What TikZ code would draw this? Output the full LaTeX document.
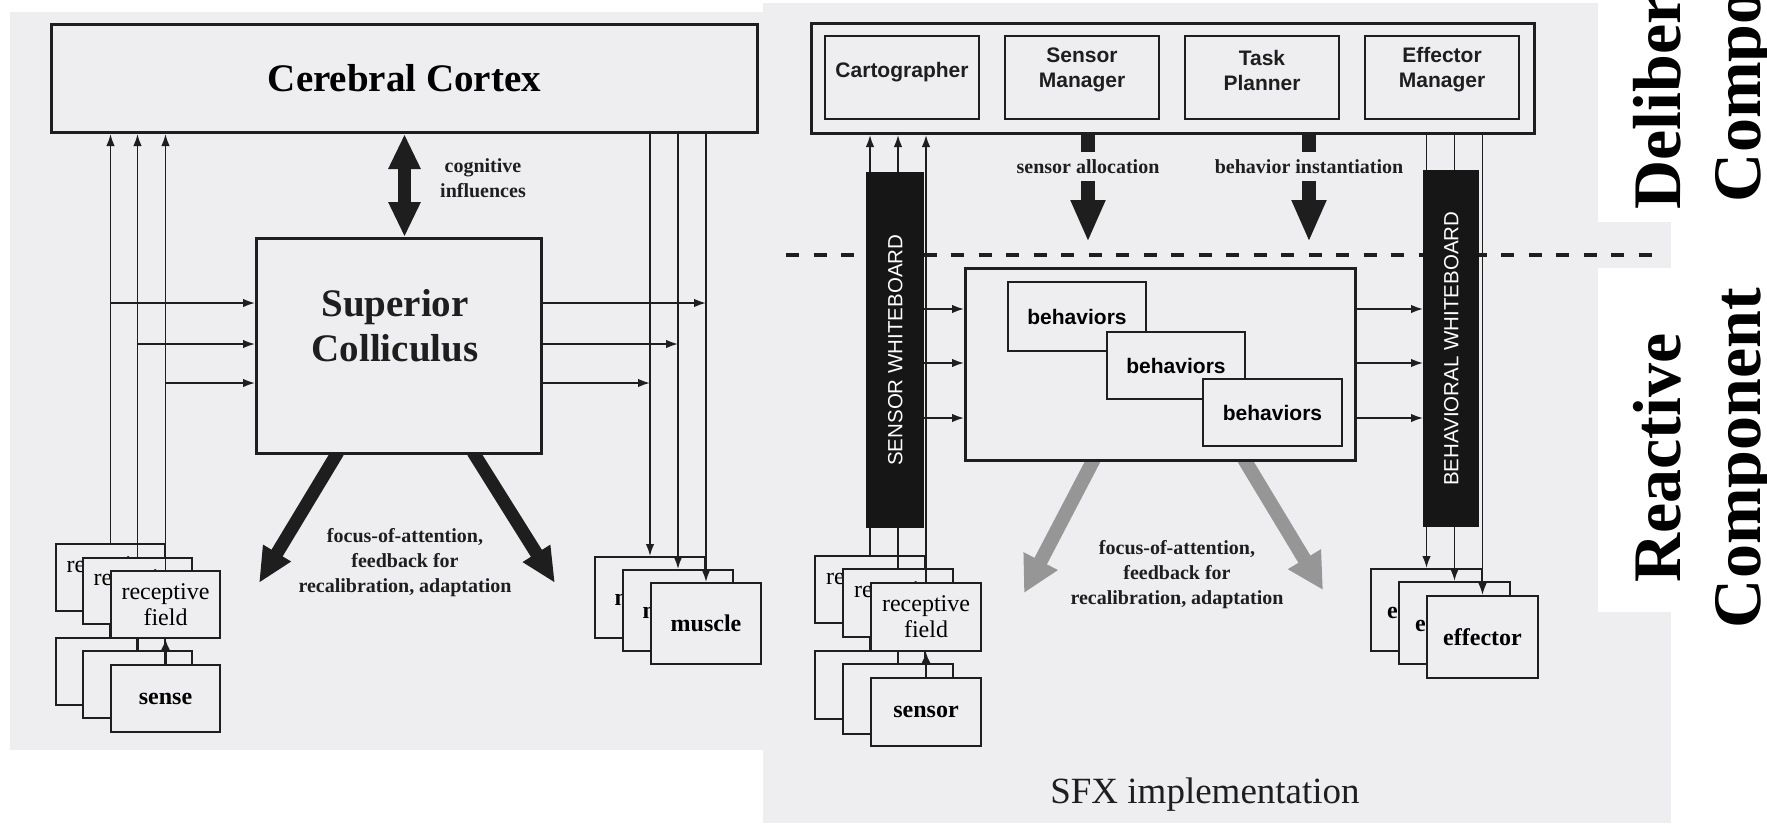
\documentclass[tikz,border=0pt]{standalone}
\usepackage{fontspec}
\setmainfont{Liberation Serif}
\newfontfamily\sansf{Liberation Sans}
\usetikzlibrary{arrows.meta}
\definecolor{panel}{RGB}{238,238,240}
\definecolor{ink}{RGB}{30,30,30}
\definecolor{barc}{RGB}{22,22,22}
\definecolor{halftone}{RGB}{150,150,150}
\newcommand\FBig{\fontsize{39}{45}\selectfont\bfseries}
\newcommand\FLab{\fontsize{20}{25}\selectfont\bfseries}
\newcommand\FBox{\fontsize{24}{26}\selectfont}
\newcommand\FSans{\sansf\fontsize{21}{25}\selectfont\bfseries}
\newcommand\FWb{\sansf\fontsize{20.5}{24}\selectfont}
\newcommand\FSide{\fontsize{68}{80}\selectfont\bfseries}
\newcommand\FCap{\fontsize{37}{44}\selectfont}
\begin{document}
\begin{tikzpicture}[x=1pt,y=-1pt,
  box/.style={draw=ink, fill=panel, line width=2pt, inner sep=0pt, anchor=north west, align=center},
  bigbox/.style={box, line width=3pt},
  sz/.style 2 args={minimum width=#1pt, minimum height=#2pt},
  bar/.style={fill=barc, draw=none, inner sep=0pt, anchor=north west},
  arr/.style={draw=ink, line width=1.7pt, -{Latex[length=12pt,width=8.5pt]}},
  arrB/.style={draw=ink, line width=2.6pt, -{Latex[length=11pt,width=9pt]}},
  fat/.style={draw=ink, line width=13pt, -{Triangle[length=35pt,width=30pt]}},
  fatgray/.style={draw=halftone, line width=14pt, -{Triangle[length=36pt,width=36pt]}},
  lab/.style={inner sep=0pt, align=center, font=\FLab, text=ink},
  txt/.style={inner sep=0pt, align=center, text=ink},
]
\useasboundingbox (0,0) rectangle (1767,823);
\clip (0,0) rectangle (1767,823);
\fill[white] (0,0) rectangle (1767,823);
% panels
\fill[panel] (10,12) rectangle (763,750);
\fill[panel] (763,3) rectangle (1671,823);
\fill[white] (1598,0) rectangle (1767,222);
\fill[white] (1598,268) rectangle (1767,612);

% ================= LEFT =================
\node[bigbox, sz={706}{108}, font=\FBig] (cortex) at (50,23) {Cerebral Cortex};

\coordinate (dL0) at (338,452);
\coordinate (dL1) at (259,583);
\coordinate (dR0) at (473,452);
\coordinate (dR1) at (555,583);
\draw[fat] (dL0) -- (dL1);
\draw[fat] (dR0) -- (dR1);

\node[bigbox, sz={285}{215}] (sc) at (255,237) {};
\node[txt, font=\FBig] (scT) at (395,326) {Superior\\Colliculus};

\draw[draw=ink, line width=13pt, {Triangle[length=35pt,width=30pt]}-{Triangle[length=35pt,width=30pt]}] (cortex.south) -- (cortex.south |- sc.north);
\node[lab] (cog) at (483,178) {cognitive\\influences};

% sense boxes
\node[box, sz={109}{67}] (B1) at (55,637) {};
\node[box, sz={109}{67}] (B2) at (82,650) {};
\node[box, sz={109}{67}, font=\FBox\bfseries] (B3) at (110,664) {sense};
% receptive fields
\node[box, sz={109}{67}, font=\FBox] (A1) at (55,543) {receptive\\field};
\draw[arrB] (B1.north) -- (A1.south);
\node[box, sz={109}{66}, font=\FBox] (A2) at (82,557) {receptive\\field};
\draw[arrB] (B2.north) -- (A2.south);
\node[box, sz={109}{67}, font=\FBox] (A3) at (110,570) {receptive\\field};
\draw[arrB] (B3.north) -- (A3.south);

\draw[arr] (A1.north) -- (A1.north |- cortex.south);
\draw[arr] (A2.north) -- (A2.north |- cortex.south);
\draw[arr] (A3.north) -- (A3.north |- cortex.south);

\coordinate (y1) at (0,303);
\coordinate (y2) at (0,344);
\coordinate (y3) at (0,383);
\draw[arr] (A1.north |- y1) -- (sc.west |- y1);
\draw[arr] (A2.north |- y2) -- (sc.west |- y2);
\draw[arr] (A3.north |- y3) -- (sc.west |- y3);

% muscles
\node[box, sz={110}{81}, font=\FBox\bfseries] (M1) at (594,556) {muscle};
\node[box, sz={110}{81}, font=\FBox\bfseries] (M2) at (622,569) {muscle};
\node[box, sz={110}{81}, font=\FBox\bfseries] (M3) at (650,582) {muscle};
\draw[arr] (M1.north |- cortex.south) -- (M1.north);
\draw[arr] (M2.north |- cortex.south) -- (M2.north);
\draw[arr] (M3.north |- cortex.south) -- (M3.north);
\draw[arr] (sc.east |- y1) -- (M3.north |- y1);
\draw[arr] (sc.east |- y2) -- (M2.north |- y2);
\draw[arr] (sc.east |- y3) -- (M1.north |- y3);

\node[lab] (focL) at (405,563) {focus-of-attention,\\feedback for\\recalibration, adaptation};

% ================= RIGHT =================
\coordinate (dashL) at (786,255);
\coordinate (dashR) at (1660,255);
\draw[ink, line width=4pt, dash pattern=on 13pt off 14.5pt] (dashL) -- (dashR);

\node[bigbox, sz={723}{110}] (delib) at (810,22) {};
\node[box, sz={154}{83}] (carto) at (824,35) {};
\node[box, sz={154}{83}] (smgr) at (1004,35) {};
\node[box, sz={154}{83}] (tpl) at (1184,35) {};
\node[box, sz={154}{83}] (emgr) at (1364,35) {};
\node[txt, font=\FSans] (cartoT) at (carto.center |- 0,72) {Cartographer};
\node[txt, font=\FSans] (smgrT) at (smgr.center |- 0,70) {Sensor\\Manager};
\node[txt, font=\FSans] (tplT) at (tpl.center |- 0,70) {Task\\Planner};
\node[txt, font=\FSans] (emgrT) at (emgr.center |- 0,70) {Effector\\Manager};

% sensor stacks
\node[box, sz={110}{68}] (S1) at (814,650) {};
\node[box, sz={110}{70}] (S2) at (842,663) {};
\node[box, sz={110}{68}, font=\FBox\bfseries] (S3) at (870,677) {sensor};
\node[box, sz={110}{67}, font=\FBox] (R1) at (814,555) {receptive\\field};
\draw[arrB] (S1.north) -- (R1.south);
\node[box, sz={110}{68}, font=\FBox] (R2) at (842,568) {receptive\\field};
\draw[arrB] (S2.north) -- (R2.south);
\node[box, sz={110}{68}, font=\FBox] (R3) at (870,582) {receptive\\field};
\draw[arrB] (S3.north) -- (R3.south);

% effectors
\node[box, sz={111}{82}, font=\FBox\bfseries] (E1) at (1370,568) {effector};
\node[box, sz={111}{82}, font=\FBox\bfseries] (E2) at (1398,581) {effector};
\node[box, sz={111}{82}, font=\FBox\bfseries] (E3) at (1426,595) {effector};

\draw[arr] (R1.north) -- (R1.north |- delib.south);
\draw[arr] (R2.north) -- (R2.north |- delib.south);
\draw[arr] (R3.north) -- (R3.north |- delib.south);
\draw[arr] (E1.north |- delib.south) -- (E1.north);
\draw[arr] (E2.north |- delib.south) -- (E2.north);
\draw[arr] (E3.north |- delib.south) -- (E3.north);

% whiteboards
\node[bar, sz={58}{356}] (swb) at (866,172) {};
\node[bar, sz={56}{357}] (bwb) at (1423,170) {};
\node[rotate=90, font=\FWb, text=white, inner sep=0pt] (swbT) at (swb.center) {SENSOR WHITEBOARD};
\node[rotate=90, font=\FWb, text=white, inner sep=0pt] (bwbT) at (bwb.center) {BEHAVIORAL WHITEBOARD};

% gray feedback arrows
\coordinate (gL0) at (1094,459);
\coordinate (gL1) at (1024,593);
\coordinate (gR0) at (1244,459);
\coordinate (gR1) at (1323,590);
\draw[fatgray] (gL0) -- (gL1);
\draw[fatgray] (gR0) -- (gR1);

% behaviors
\node[bigbox, sz={390}{192}] (beh) at (964,267) {};
\node[box, sz={138}{69}, font=\FSans] (bh1) at (1007,281) {behaviors};
\node[box, sz={138}{67}, font=\FSans] (bh2) at (1106,331) {behaviors};
\node[box, sz={139}{67}, font=\FSans] (bh3) at (1202,378) {behaviors};

\coordinate (yb1) at (0,309);
\coordinate (yb2) at (0,363);
\coordinate (yb3) at (0,418);
\draw[arr] (swb.east |- yb1) -- (beh.west |- yb1);
\draw[arr] (swb.east |- yb2) -- (beh.west |- yb2);
\draw[arr] (swb.east |- yb3) -- (beh.west |- yb3);
\draw[arr] (beh.east |- yb1) -- (bwb.west |- yb1);
\draw[arr] (beh.east |- yb2) -- (bwb.west |- yb2);
\draw[arr] (beh.east |- yb3) -- (bwb.west |- yb3);

% allocation arrows
\coordinate (sa0) at (1088,132);
\coordinate (sa1) at (1088,152);
\coordinate (sa2) at (1088,181);
\coordinate (sa3) at (1088,242);
\coordinate (bi0) at (1309,132);
\coordinate (bi1) at (1309,152);
\coordinate (bi2) at (1309,181);
\coordinate (bi3) at (1309,242);
\draw[ink, line width=14pt] (sa0) -- (sa1);
\draw[ink, line width=14pt, -{Triangle[length=42pt,width=32pt]}] (sa2) -- (sa3);
\draw[ink, line width=14pt] (bi0) -- (bi1);
\draw[ink, line width=14pt, -{Triangle[length=42pt,width=32pt]}] (bi2) -- (bi3);
\node[lab] (saT) at (1088,167) {sensor allocation};
\node[lab] (biT) at (1309,167) {behavior instantiation};

\node[lab] (focR) at (1177,575) {focus-of-attention,\\feedback for\\recalibration, adaptation};
\node[txt, font=\FCap] (sfx) at (1205,795) {SFX implementation};

% side labels
\node[rotate=90, anchor=base, font=\FSide, inner sep=0pt, text=black] (dl1) at (1680,32) {Deliberative};
\node[rotate=90, anchor=base, font=\FSide, inner sep=0pt, text=black] (dl2) at (1760,32) {Component};
\node[rotate=90, anchor=base, font=\FSide, inner sep=0pt, text=black] (rl1) at (1680,458) {Reactive};
\node[rotate=90, anchor=base, font=\FSide, inner sep=0pt, text=black] (rl2) at (1760,458) {Component};
\end{tikzpicture}
\end{document}
